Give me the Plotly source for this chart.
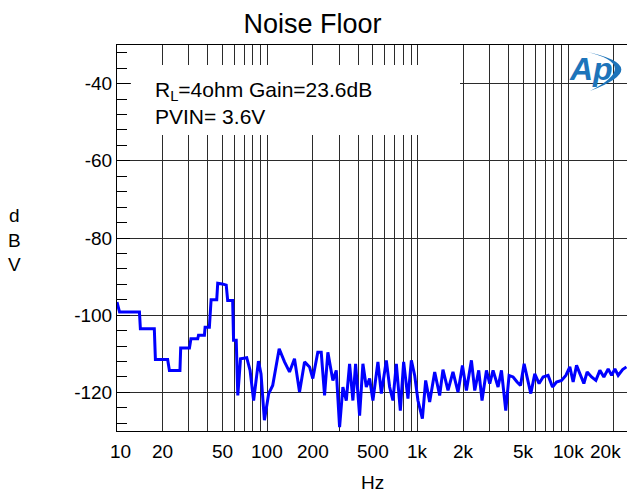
import math
import plotly.graph_objects as go

# ---------------- data ----------------
freq_hz = [
    10.0, 10.4, 14.1, 14.3, 17.7, 18.0, 21.7, 22.3, 26.2, 26.5,
    30.3, 31.0, 34.4, 34.8, 38.1, 38.5, 41.1, 42.2, 46.0, 46.7,
    50.0, 53.2, 54.4, 58.7, 59.5, 62.0, 63.5, 66.2, 72.8, 76.6,
    80.9, 87.1, 90.6, 95.4, 101.9, 108.3, 119.6, 129.8, 140.1, 151.2,
    163.3, 176.3, 190.3, 200.1, 216.0, 227.6, 239.5, 251.9, 272.0, 286.5,
    301.4, 317.0, 334.0, 351.3, 369.5, 385.1, 409.4, 430.7, 453.7, 477.2,
    501.9, 541.9, 571.0, 616.2, 648.2, 681.8, 718.2, 763.6, 803.3, 858.0,
    903.9, 951.0, 1000, 1070, 1125, 1196, 1292, 1394, 1466, 1584,
    1709, 1846, 1975, 2099, 2266, 2384, 2534, 2666, 2852, 2999,
    3155, 3406, 3588, 3833, 4032, 4287, 4558, 4802, 5075, 5313,
    5622, 5976, 6383, 6785, 7324, 7838, 8332, 8997, 9610, 10215,
    10747, 11322, 11911, 12660, 13318, 14245, 15218, 16180, 17200, 18370,
    19360, 20360, 21410, 22910, 24300,
]
level_dbv = [
    -96.6, -99.2, -99.2, -103.5, -103.5, -111.5, -111.5, -114.3, -114.3, -108.5,
    -108.5, -106.1, -106.1, -105.2, -105.2, -103.1, -103.1, -96.0, -96.0, -91.7,
    -91.9, -92.2, -96.2, -96.2, -106.5, -106.5, -120.8, -111.3, -111.0, -114.3,
    -122.1, -111.9, -115.2, -127.2, -120.3, -118.2, -108.7, -112.1, -114.7, -111.3,
    -119.9, -112.1, -113.4, -116.4, -109.6, -109.6, -120.8, -109.6, -116.9, -114.3,
    -129.0, -118.6, -122.1, -112.6, -122.1, -112.6, -126.0, -112.6, -118.6, -116.4,
    -122.1, -112.1, -120.3, -111.7, -118.6, -122.1, -112.6, -124.7, -112.1, -121.6,
    -111.7, -115.6, -122.1, -126.8, -116.9, -122.5, -114.7, -120.8, -114.1, -119.5,
    -114.7, -119.9, -113.0, -119.5, -111.7, -119.5, -114.3, -122.1, -114.3, -117.7,
    -114.3, -118.6, -114.3, -124.7, -115.6, -116.0, -117.3, -118.2, -112.6, -116.4,
    -120.3, -115.2, -117.7, -116.0, -115.6, -118.6, -117.3, -116.9, -115.6, -113.4,
    -117.3, -113.0, -115.2, -117.7, -114.7, -116.0, -116.9, -114.3, -116.0, -113.9,
    -115.6, -113.9, -115.6, -114.1, -113.4,
]

x_grid_hz = [20, 30, 40, 50, 60, 70, 80, 90,
             100, 200, 300, 400, 500, 600, 700, 800, 900,
             1000, 2000, 3000, 4000, 5000, 6000, 7000, 8000, 9000,
             10000, 20000]
x_tick_hz = [10, 20, 50, 100, 200, 500, 1000, 2000, 5000, 10000, 20000]
x_tick_text = ["10", "20", "50", "100", "200", "500", "1k", "2k", "5k", "10k", "20k"]
y_tick_vals = [-40, -60, -80, -100, -120]
y_tick_text = ["-40", "-60", "-80", "-100", "-120"]

title_text = "Noise Floor"
note_text = "R<sub>L</sub>=4ohm Gain=23.6dB<br>PVIN= 3.6V"
x_title = "Hz"
y_title = "d<br>B<br>V"

x_min_hz, x_max_hz = 10, 24500
y_min, y_max = -130, -30

# ---------------- layout geometry / style ----------------
W, H = 627, 494
ML, MR, MT, MB = 117, 0, 45, 63
PW, PH = W - ML - MR, H - MT - MB
FONT = "Liberation Sans, Arial, Helvetica, sans-serif"
GRID = "#2b2b2b"
BLUE = "#0000ff"
LOGO = "#1d74ba"


def px_x(px):
    return (px - ML) / PW


def px_y(py):
    return (H - MB - py) / PH


label_shift = {10: 3, 20000: -8}

fig = go.Figure()
fig.add_trace(go.Scatter(
    x=freq_hz, y=level_dbv, mode="lines",
    line=dict(color=BLUE, width=3),
    showlegend=False, hoverinfo="skip",
))

fig.update_layout(
    width=W, height=H,
    margin=dict(l=ML, r=MR, t=MT, b=MB, pad=0, autoexpand=False),
    paper_bgcolor="white", plot_bgcolor="white",
    font=dict(family=FONT, color="black", size=19),
    title=dict(text=title_text, x=312.5 / W, xanchor="center",
               y=1 - 23.5 / H, yanchor="middle",
               font=dict(family=FONT, size=27, color="black")),
    xaxis=dict(
        type="log", range=[math.log10(x_min_hz), math.log10(x_max_hz)],
        tickmode="array", tickvals=x_grid_hz, showticklabels=False, ticks="",
        showgrid=True, gridcolor=GRID, gridwidth=1,
        showline=True, linecolor="black", linewidth=1, mirror=True,
        zeroline=False, automargin=False,
    ),
    yaxis=dict(
        range=[y_min, y_max],
        tickmode="array", tickvals=y_tick_vals, ticktext=y_tick_text,
        ticks="inside", ticklen=13, tickwidth=1, tickcolor="black",
        tickfont=dict(family=FONT, size=19, color="black"),
        showgrid=True, gridcolor=GRID, gridwidth=1,
        showline=True, linecolor="black", linewidth=1, mirror=True,
        zeroline=False, automargin=False,
        minor=dict(tickmode="linear", tick0=-40, dtick=4, ticks="inside",
                   ticklen=10, tickwidth=1, tickcolor="black", showgrid=False),
    ),
)

# white panel behind the condition note (leaves the left-axis ticks visible)
fig.add_shape(type="rect", xref="paper", yref="paper", layer="above",
              x0=px_x(131), x1=px_x(460), y0=px_y(135), y1=px_y(65),
              fillcolor="white", line=dict(width=0))

annotations = []
# x tick labels
for v, t in zip(x_tick_hz, x_tick_text):
    annotations.append(dict(
        x=math.log10(v), xref="x", y=px_y(451), yref="paper",
        text=t, showarrow=False, xanchor="center", yanchor="middle",
        xshift=label_shift.get(v, 0),
        font=dict(family=FONT, size=19, color="black"),
    ))
# axis titles
annotations.append(dict(x=0, xref="paper", xshift=14 - ML, y=px_y(240), yref="paper",
                        text=y_title, showarrow=False, xanchor="center", yanchor="middle",
                        font=dict(family=FONT, size=19, color="black")))
annotations.append(dict(x=0.5, xref="paper", y=px_y(482), yref="paper",
                        text=x_title, showarrow=False, xanchor="center", yanchor="middle",
                        font=dict(family=FONT, size=19, color="black")))
# note
annotations.append(dict(x=px_x(153), xref="paper", y=px_y(76), yref="paper",
                        text=note_text, showarrow=False, xanchor="left", yanchor="top",
                        align="left",
                        font=dict(family=FONT, size=21, color="black")))
# logo text
annotations.append(dict(x=px_x(591), xref="paper", y=px_y(69), yref="paper",
                        text="<b><i>Ap</i></b>", showarrow=False,
                        xanchor="center", yanchor="middle",
                        font=dict(family=FONT, size=32, color=LOGO)))
fig.update_layout(annotations=annotations)

# logo swoosh
swoosh = (f"M {px_x(583)},{px_y(51)} Q {px_x(656)},{px_y(66)} {px_x(590)},{px_y(91)} "
          f"Q {px_x(643)},{px_y(64)} {px_x(583)},{px_y(51)} Z")
fig.add_shape(type="path", xref="paper", yref="paper", path=swoosh,
              fillcolor=LOGO, line=dict(width=0), layer="above")

# remove the default page margin so the figure sits at the window's corner
fig.write_html(
    "out.html",
    config={"displayModeBar": False, "staticPlot": True},
    post_script="document.body.style.margin='0';document.body.style.overflow='hidden';",
)
